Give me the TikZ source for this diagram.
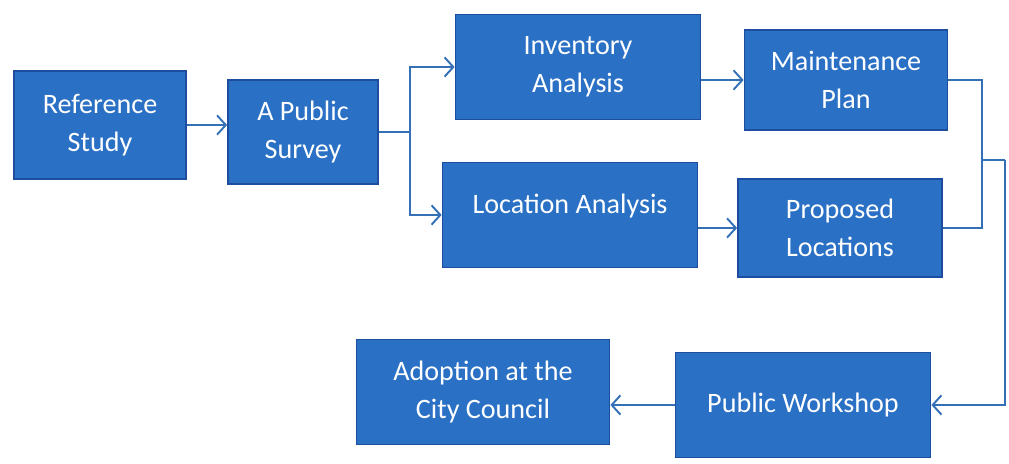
\documentclass[tikz,border=0pt]{standalone}
\usepackage{fontspec}
\setmainfont{Carlito}
\usetikzlibrary{arrows.meta}
\definecolor{boxblue}{RGB}{42,112,196}
\definecolor{edgeblue}{RGB}{28,78,160}
\definecolor{lineblue}{RGB}{52,112,182}
\tikzset{box/.style={draw=edgeblue,line width=1pt,fill=boxblue,text=white,align=center,
  font=\fontsize{16}{21.5}\selectfont,inner sep=0pt},
  link/.style={draw=lineblue,line width=1.1pt,-{Straight Barb[length=5pt,width=11pt]}},
  plain/.style={draw=lineblue,line width=1.1pt}}
\begin{document}
\begin{tikzpicture}
                \useasboundingbox (0,0) rectangle (20.18,9.28) ;
                \node [box,minimum width=3.44cm,minimum height=2.16cm] (ref) at (2.0,6.78) {Reference\\Study} ;
                \node [box,minimum width=3.0cm,minimum height=2.08cm] (survey) at (6.06,6.64) {A Public\\Survey} ;
                \node [box,minimum width=4.9cm,minimum height=2.1cm] (inv) at (11.56,7.94) {Inventory\\Analysis} ;
                \node [box,minimum width=4.06cm,minimum height=2.0cm] (maint) at (16.92,7.68) {Maintenance\\Plan} ;
                \node [box,minimum width=5.1cm,minimum height=2.1cm,text depth=0.45cm] (loc) at (11.4,4.98) {Location Analysis} ;
                \node [box,minimum width=4.08cm,minimum height=1.96cm] (prop) at (16.8,4.72) {Proposed\\Locations} ;
                \node [box,minimum width=5.1cm,minimum height=2.1cm] (work) at (16.06,1.18) {Public Workshop} ;
                \node [box,minimum width=5.06cm,minimum height=2.1cm] (adopt) at (9.66,1.44) {Adoption at the\\City Council} ;
                \coordinate (fork) at (8.2,6.64) ;
                \coordinate (join) at (19.64,6.08) ;
                \coordinate (edge) at (20.1,6.08) ;
                \draw [link] (ref.east) -- (ref.east -| survey.west) ;
                \draw [plain] (survey) -- (fork) ;
                \draw [link] (fork) |- (inv) ;
                \draw [link] (fork) |- (loc) ;
                \draw [link] (maint.west -| inv.east) -- (maint.west) ;
                \draw [link] (prop.west -| loc.east) -- (prop.west) ;
                \draw [plain] (maint.east) -| (join) ;
                \draw [plain] (prop.east) -| (join) ;
                \draw [plain] (join) -- (edge) ;
                \draw [link] (edge) |- (work.east) ;
                \draw [link] (work.west) -- (work.west -| adopt.east) ;
            \end{tikzpicture}
\end{document}
